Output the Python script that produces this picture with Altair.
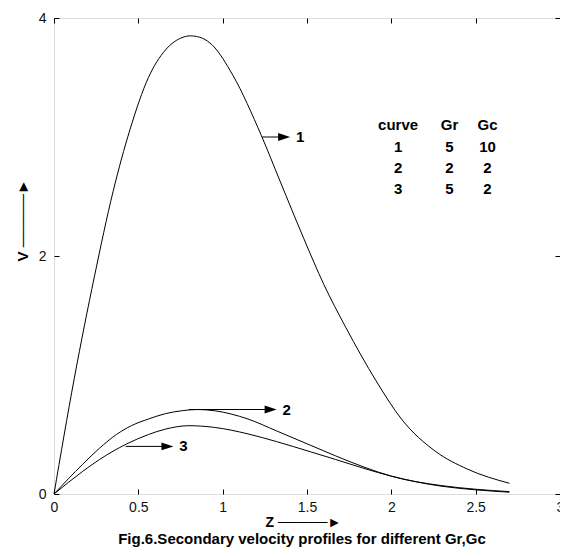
import altair as alt
import pandas as pd

# ---- curve data (Z, V) ----
z_c1 = [0, 0.12, 0.24, 0.35, 0.45, 0.56, 0.66, 0.75, 0.81, 0.88, 0.94, 1.06, 1.23, 1.34, 1.48, 1.60, 1.73, 1.91, 2.06, 2.26, 2.45, 2.70]
v_c1 = [0, 0.97, 1.83, 2.54, 3.06, 3.50, 3.73, 3.83, 3.85, 3.83, 3.77, 3.52, 3.01, 2.63, 2.15, 1.76, 1.40, 0.95, 0.63, 0.36, 0.21, 0.09]

z_c2 = [0, 0.17, 0.27, 0.37, 0.46, 0.56, 0.66, 0.76, 0.85, 0.95, 1.15, 1.32, 1.52, 1.67, 1.85, 2.00, 2.30, 2.50, 2.70]
v_c2 = [0, 0.25, 0.385, 0.50, 0.575, 0.63, 0.675, 0.70, 0.71, 0.70, 0.63, 0.53, 0.41, 0.32, 0.22, 0.15, 0.07, 0.04, 0.02]

z_c3 = [0, 0.17, 0.27, 0.43, 0.56, 0.66, 0.80, 0.95, 1.15, 1.32, 1.52, 1.67, 1.85, 2.00, 2.30, 2.50, 2.70]
v_c3 = [0, 0.19, 0.29, 0.42, 0.50, 0.545, 0.574, 0.56, 0.505, 0.44, 0.355, 0.29, 0.21, 0.15, 0.065, 0.035, 0.015]

# ---- arrow annotations ----
arrow_labels = ["1", "2", "3"]
arrow_z_start = [1.234, 0.80, 0.425]
arrow_z_tip = [1.40, 1.32, 0.708]
arrow_v = [3.0, 0.71, 0.40]

# ---- parameter table ----
table_header = ["curve", "Gr", "Gc"]
curve_ids = ["1", "2", "3"]
gr_values = ["5", "2", "5"]
gc_values = ["10", "2", "2"]
table_col_z = [2.04, 2.345, 2.57]
table_row_v = [3.10, 2.92, 2.74, 2.56]

x_ticks = [0, 0.5, 1, 1.5, 2, 2.5, 3]
y_ticks = [0, 2, 4]

W, H = 506, 476
FONT = "Liberation Sans, Arial, sans-serif"

curves = pd.concat([
    pd.DataFrame({"Z": z_c1, "V": v_c1, "curve": "1"}),
    pd.DataFrame({"Z": z_c2, "V": v_c2, "curve": "2"}),
    pd.DataFrame({"Z": z_c3, "V": v_c3, "curve": "3"}),
], ignore_index=True)

arrows = pd.DataFrame({
    "label": arrow_labels,
    "z0": arrow_z_start,
    "z1": arrow_z_tip,
    "v": arrow_v,
})
arrows["zend"] = arrows["z1"] - 0.02
arrows["zl"] = arrows["z1"] + 0.035

rows = [table_header] + [[c, g, h] for c, g, h in zip(curve_ids, gr_values, gc_values)]
table = pd.DataFrame([
    {"txt": txt, "z": table_col_z[j], "v": table_row_v[i]}
    for i, row in enumerate(rows) for j, txt in enumerate(row)
])

xs = alt.Scale(domain=[0, 3], nice=False, zero=False)
ys = alt.Scale(domain=[0, 4], nice=False, zero=False)


def tick_axis(orient, offset, values):
    return alt.Axis(orient=orient, offset=offset, values=values, labels=False,
                    domain=False, grid=False, ticks=True, tickSize=5,
                    tickColor="black", tickWidth=1, title=None)


main_x = alt.Axis(orient="bottom", values=x_ticks, format="~g", ticks=False, domain=False,
                  grid=False, labelFont=FONT, labelFontSize=14, labelColor="#111",
                  labelPadding=6, labelFlush=False, labelBound=False,
                  title="Z ─────►", titleFont=FONT, titleFontSize=14, titleFontWeight="bold",
                  titleColor="black", titleAlign="left", titleBaseline="middle",
                  titleX=211, titleY=28)
main_y = alt.Axis(orient="left", values=y_ticks, format="~g", ticks=False, domain=False,
                  grid=False, labelFont=FONT, labelFontSize=14, labelColor="#111",
                  labelPadding=8, labelFlush=False, labelBound=False,
                  title="V  ─────►", titleFont=FONT, titleFontSize=15, titleFontWeight="bold",
                  titleColor="black", titleAngle=270, titleAlign="left", titleBaseline="middle",
                  titleX=-32, titleY=243)

lines = alt.Chart(curves).mark_line(color="black", strokeWidth=1, interpolate="monotone").encode(
    x=alt.X("Z:Q", scale=xs, axis=main_x),
    y=alt.Y("V:Q", scale=ys, axis=main_y),
    detail="curve:N",
)

arrow_lines = alt.Chart(arrows).mark_rule(color="black", strokeWidth=1).encode(
    x=alt.X("z0:Q", scale=xs, axis=tick_axis("top", -H, x_ticks)),
    x2="zend:Q",
    y=alt.Y("v:Q", scale=ys, axis=tick_axis("right", -W, y_ticks)),
)

arrow_heads = alt.Chart(arrows).mark_point(
    shape="M -2 -0.65 L 0 0 L -2 0.65 Z", filled=True, size=144, color="black", opacity=1
).encode(
    x=alt.X("z1:Q", scale=xs, axis=tick_axis("bottom", -H, x_ticks)),
    y=alt.Y("v:Q", scale=ys, axis=tick_axis("left", -W, y_ticks)),
)

arrow_text = alt.Chart(arrows).mark_text(
    font=FONT, fontSize=15, fontWeight="bold", align="left", baseline="middle", color="black"
).encode(
    x=alt.X("zl:Q", scale=xs, axis=None),
    y=alt.Y("v:Q", scale=ys, axis=None),
    text="label:N",
)

table_text = alt.Chart(table).mark_text(
    font=FONT, fontSize=15, fontWeight="bold", align="center", baseline="middle", color="black"
).encode(
    x=alt.X("z:Q", scale=xs, axis=None),
    y=alt.Y("v:Q", scale=ys, axis=None),
    text="txt:N",
)

chart = alt.layer(lines, arrow_lines, arrow_heads, arrow_text, table_text).resolve_axis(
    x="independent", y="independent"
).properties(
    width=W,
    height=H,
    autosize=alt.AutoSizeParams(type="none"),
    padding={"left": 46, "top": 10, "right": 0, "bottom": 54},
    title=alt.Title("Fig.6.Secondary velocity profiles for different Gr,Gc", orient="bottom",
                    anchor="middle", font=FONT, fontSize=15, fontWeight="bold",
                    color="black", offset=3, dx=-5),
).configure_view(stroke="black", strokeWidth=1).configure(background="white")

chart.save("out.html", embed_options={"renderer": "svg", "actions": False})
